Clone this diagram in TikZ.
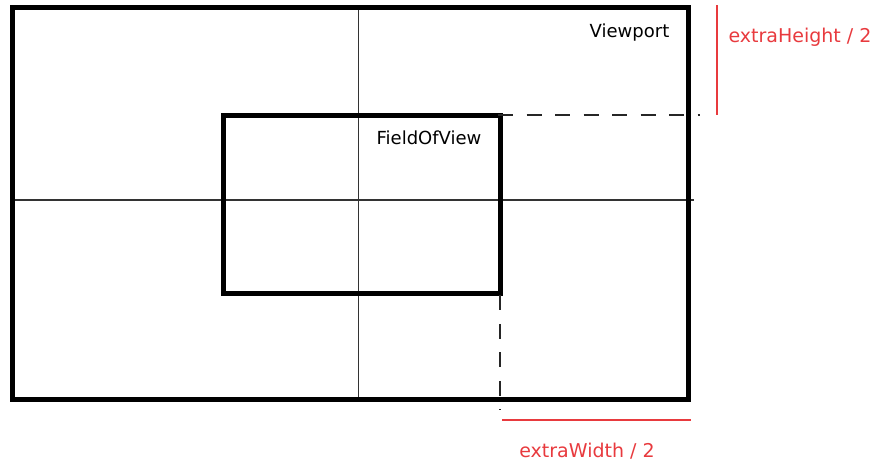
\documentclass[tikz,border=0pt]{standalone}
\usepackage{fontspec}
\setmainfont{DejaVu Sans}
\usetikzlibrary{calc}
\definecolor{labelred}{RGB}{232,58,62}

\begin{document}
\begin{tikzpicture}[x=1pt,y=-1pt,
	frame/.style={line width=5pt},
	axisline/.style={line width=1.6pt, black!80},
	guide/.style={line width=1.8pt, black!85, dash pattern=on 15pt off 13.5pt},
	measure/.style={line width=1.6pt, labelred},
	caption/.style={font=\fontsize{18}{20}\selectfont, inner sep=0pt, anchor=base},
	redcaption/.style={caption, font=\fontsize{19}{21}\selectfont, text=labelred}]
	\useasboundingbox (0,0) rectangle (874,463);
	%%%%% START %%%%%
	\coordinate (vpTL) at (12.5, 7.5);
	\coordinate (vpBR) at (688, 399.5);
	\coordinate (fovTL) at (223.3, 115.2);
	\coordinate (fovBR) at (500.3, 293.3);
	\coordinate (fovTR) at (fovBR |- fovTL);
	
	% centre lines
	\coordinate (midL) at (12.5, 200);
	\coordinate (midR) at (694, 200);
	\coordinate (midT) at (358.3, 7.5);
	\coordinate (midB) at (358.3, 399.5);
	\draw[axisline] (midL) -- (midR);
	\draw[axisline] (midT) -- (midB);
	
	% viewport and field of view
	\draw[frame] (vpTL) rectangle (vpBR);
	\draw[frame, line width=4.6pt] (fovTL) rectangle (fovBR);
	
	% guides
	\coordinate (hEnd) at (700, 115.2);
	\coordinate (vEnd) at (500.3, 410);
	\draw[guide] ($(fovTR)+(-2.3,0)$) -- (hEnd);
	\draw[guide] ($(fovBR)+(0,2)$) -- (vEnd);
	
	% extra sizes
	\coordinate (hTop) at (717, 5);
	\coordinate (hBot) at (717, 115.2);
	\coordinate (wLeft) at (502, 420);
	\coordinate (wRight) at (691, 420);
	\draw[measure] (hTop) -- (hBot);
	\draw[measure] (wLeft) -- (wRight);
	
	\node[caption] (viewport) at (629.5, 37) {Viewport};
	\node[caption] (fov) at (429, 144) {FieldOfView};
	\node[redcaption] (extraH) at (800, 42) {extraHeight / 2};
	\node[redcaption] (extraW) at (587, 457) {extraWidth / 2};
	%%%%% END %%%%%
\end{tikzpicture}
\end{document}
